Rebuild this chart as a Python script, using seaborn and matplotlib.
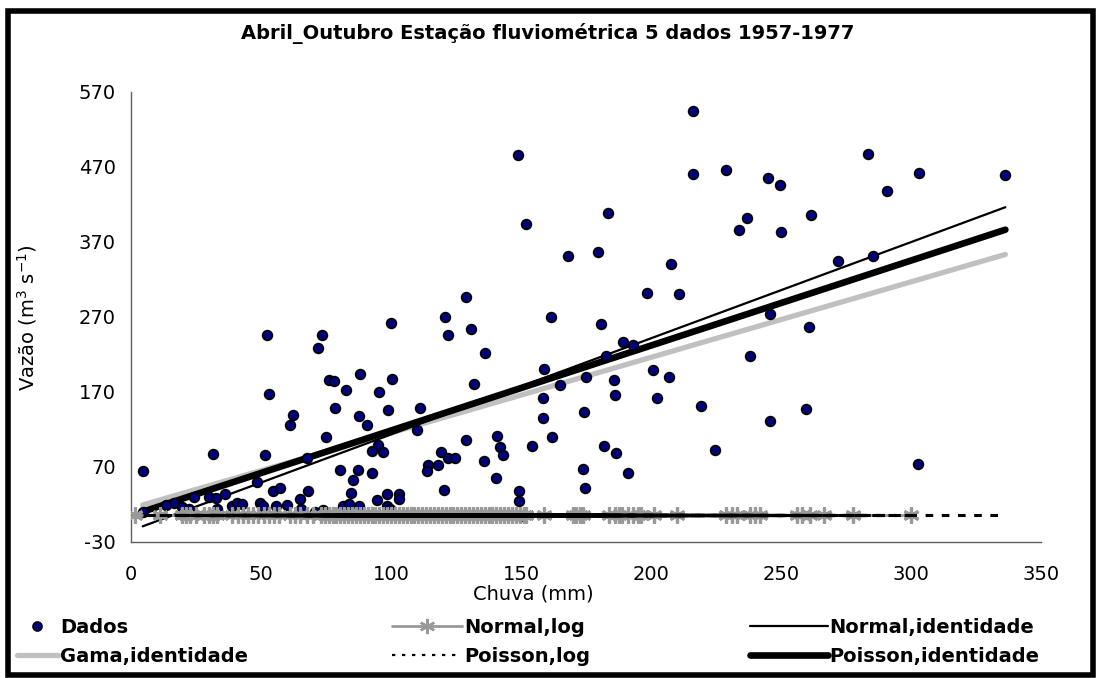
import numpy as np
import pandas as pd
import matplotlib
matplotlib.use("Agg")
import matplotlib.pyplot as plt
import seaborn as sns
from matplotlib.lines import Line2D
from matplotlib.patches import Rectangle

# ---------------- data ----------------
chuva = [148.8, 151.8, 168.0, 128.8, 120.6, 161.4, 121.8, 130.8, 136.3, 52.2,
         73.3, 72.0, 100.1, 76.2, 77.9, 88.1, 82.7, 95.4, 100.4, 53.1,
         132.0, 159.0, 164.9, 158.6, 216.3, 216.3, 229.0, 245.0, 249.7, 283.5,
         290.9, 183.3, 237.0, 233.7, 250.1, 261.7, 179.6, 207.8, 271.9, 285.3,
         198.3, 210.6, 180.8, 245.8, 260.6, 189.1, 193.2, 182.7, 238.0, 175.1,
         185.9, 200.8, 206.9, 186.3, 202.2, 174.2, 219.2, 245.9, 259.5, 181.8,
         186.7, 224.6, 173.7, 191.2, 174.6, 302.8, 158.5, 161.9, 154.3, 149.2,
         149.2, 78.3, 98.8, 111.3, 87.6, 90.6, 75.1, 109.9, 95.0, 92.6,
         97.0, 129.0, 140.7, 141.8, 143.2, 135.6, 119.3, 121.8, 124.6, 114.4,
         114.0, 118.0, 140.5, 120.5, 80.4, 87.3, 92.7, 85.4, 84.5, 98.3,
         103.1, 103.1, 94.7, 81.7, 84.0, 87.7, 98.3, 99.8, 73.7, 62.3,
         61.2, 31.5, 51.5, 4.5, 67.7, 48.3, 54.7, 57.3, 68.0, 65.0,
         36.2, 30.1, 32.7, 24.3, 16.7, 13.5, 19.7, 22.4, 33.2, 38.8,
         40.9, 42.8, 49.6, 50.9, 55.8, 60.1, 65.5, 4.5, 70.8, 150.0,
         303.0, 336.3]
vazao = [485, 394, 351, 296, 269, 269, 245, 253, 221, 246,
         246, 228, 261, 185, 184, 194, 172, 169, 187, 167,
         180, 200, 179, 162, 544, 460, 465, 455, 445, 487,
         438, 408, 401, 386, 383, 405, 356, 340, 344, 351,
         301, 300, 260, 274, 256, 236, 232, 218, 218, 190,
         186, 199, 189, 165, 162, 143, 151, 131, 147, 97,
         88, 92, 67, 61, 41, 73, 135, 110, 97, 37,
         24, 148, 146, 148, 138, 126, 109, 119, 99, 91,
         90, 105, 111, 96, 85, 78, 89, 81, 82, 72,
         64, 72, 55, 39, 65, 66, 61, 52, 35, 34,
         34, 27, 25, 17, 20, 18, 18, 13, 12, 139,
         126, 87, 85, 64, 81, 49, 38, 42, 38, 27,
         33, 30, 28, 29, 22, 19, 16, 14, 13, 18,
         22, 20, 22, 17, 18, 19, 14, 10, 9, 4,
         461, 459]

# x positions of the "Normal,log" fitted points (asterisks)
normal_log_x = [1.5, 11, 19.6, 21, 22.5, 25, 28, 30, 31.5, 33, 39, 41, 43, 45, 47,
                49, 51, 53, 55, 57, 61, 63, 65, 67.5, 70,
                73, 74.5, 76, 77.5, 79, 80.5, 82, 83.5, 85, 86.5, 88, 89.5, 91,
                92.5, 94, 95.5, 97, 98.5, 100, 101.5, 103, 104.5, 106, 107.5,
                109, 110.5, 112, 113.5, 115, 116.5, 118, 119.5, 121, 122.5, 124,
                125.5, 127, 128.5, 130, 131.5, 133, 134.5, 136, 137.5, 139,
                140.5, 142, 143.5, 145, 146.5, 148, 149.5, 151,
                152, 159, 170, 171, 172.5, 174, 184, 186, 187.5, 189, 191, 193,
                195, 196, 201, 210, 229, 231, 233, 238, 240, 242, 256, 258, 261,
                266.5, 277.7, 300]
NORMAL_LOG_LEVEL = 6.0
POISSON_LOG_LEVEL = 5.0

# fitted identity-link lines (end points)
fit_x = [4.5, 336.3]
normal_identidade = [-9.5, 416.0]
poisson_identidade = [10.0, 386.0]
gama_identidade = [19.0, 353.0]

x_ticks = [0, 50, 100, 150, 200, 250, 300, 350]
y_ticks = [-30, 70, 170, 270, 370, 470, 570]

title = "Abril_Outubro Estação fluviométrica 5 dados 1957-1977"
xlabel = "Chuva (mm)"
ylabel = "Vazão (m$^3$ s$^{-1}$)"

# ---------------- figure ----------------
sns.set_theme(style="white")
plt.rcParams['font.family'] = ['DejaVu Sans']
plt.rcParams['axes.unicode_minus'] = False
plt.rcParams['text.color'] = 'black'
plt.rcParams['axes.labelcolor'] = 'black'
plt.rcParams['xtick.color'] = 'black'
plt.rcParams['ytick.color'] = 'black'
plt.rcParams['path.simplify'] = False

W, H = 1096, 678
fig = plt.figure(figsize=(W / 100, H / 100), dpi=100)
ax = fig.add_axes([131 / W, 1 - 541.7 / H, 910 / W, 450 / H])

df = pd.DataFrame({"chuva": chuva, "vazao": vazao})
fit_df = pd.DataFrame({"x": fit_x, "normal": normal_identidade,
                       "poisson": poisson_identidade, "gama": gama_identidade})

# identity-link fits
sns.lineplot(data=fit_df, x="x", y="gama", ax=ax, color="#c0c0c0", lw=3.8,
             solid_capstyle="round", zorder=2, legend=False)
sns.lineplot(data=fit_df, x="x", y="normal", ax=ax, color="black", lw=1.6,
             zorder=2.2, legend=False)
sns.lineplot(data=fit_df, x="x", y="poisson", ax=ax, color="black", lw=4.8,
             solid_capstyle="round", zorder=2.1, legend=False)

# observations
sns.scatterplot(data=df, x="chuva", y="vazao", ax=ax, color="#000080",
                edgecolor="black", linewidth=1.3, s=48, zorder=3, legend=False)

# Normal,log fitted values
nl_df = pd.DataFrame({"x": normal_log_x,
                      "y": np.full(len(normal_log_x), NORMAL_LOG_LEVEL)})
sns.lineplot(data=nl_df, x="x", y="y", ax=ax, color="#999999", lw=2,
             marker=(6, 2, 0), markersize=11.5, markeredgewidth=2.3,
             markeredgecolor="#999999", estimator=None, zorder=4, legend=False)

# Poisson,log fitted values, path visiting the observations back and forth
# (the two last observations close the path, as in the reference)
order = np.argsort(chuva[:-2])
half = len(order) // 2
zig = np.ravel(np.column_stack([order[:half], order[half:2 * half][::-1]]))
path_idx = list(zig) + [len(chuva) - 2, len(chuva) - 1]
pl_df = pd.DataFrame({"x": [chuva[i] for i in path_idx],
                      "y": np.full(len(path_idx), POISSON_LOG_LEVEL)})
sns.lineplot(data=pl_df, x="x", y="y", ax=ax, color="black", lw=2.2,
             linestyle=(0, (2.5, 2.8)), sort=False, estimator=None, zorder=5,
             legend=False)

# axes styling
ax.set_xlim(0, 350)
ax.set_ylim(-30, 570)
ax.set_xticks(x_ticks)
ax.set_yticks(y_ticks)
ax.set_xlabel("")
ax.set_ylabel("")
for s in ["top", "right"]:
    ax.spines[s].set_visible(False)
for s in ["left", "bottom"]:
    ax.spines[s].set_color("#606060")
    ax.spines[s].set_linewidth(1.0)
ax.tick_params(axis="both", which="major", direction="out", color="#606060",
               labelsize=14, labelcolor="black", width=1.0)
ax.tick_params(axis="y", length=5, pad=6)
ax.tick_params(axis="x", length=5, pad=12)
ax.grid(False)

# texts
fig.text(548 / W, 1 - 33 / H, title, ha="center", va="center",
         fontsize=14, fontweight="bold", color="black")
fig.text(533 / W, 1 - 594 / H, xlabel, ha="center", va="center", fontsize=14,
         color="black")
fig.text(27 / W, 1 - 318 / H, ylabel, ha="center", va="center",
         rotation=90, fontsize=14, color="black")

# legends (three columns, two rows)
prop = {"weight": "bold", "size": 14}
h_dados = Line2D([], [], ls="none", marker="o", markersize=6.5,
                 markerfacecolor="#000080", markeredgecolor="black",
                 markeredgewidth=1.2)
h_gama = Line2D([], [], color="#c0c0c0", lw=3.8, solid_capstyle="round")
h_nlog = Line2D([], [], color="#999999", lw=2, marker=(6, 2, 0),
                markersize=11, markeredgewidth=1.7, markeredgecolor="#999999")
h_plog = Line2D([], [], color="black", lw=1.6, linestyle=(0, (1.5, 3)))
h_nid = Line2D([], [], color="black", lw=1.6)
h_pid = Line2D([], [], color="black", lw=4.8, solid_capstyle="round")

top = 1 - 618 / H
common = dict(loc="upper left", bbox_transform=fig.transFigure, frameon=False,
              borderpad=0, borderaxespad=0, handletextpad=0.1,
              labelspacing=0.52, prop=prop, numpoints=1, labelcolor="black")
fig.legend(handles=[h_dados, h_gama], labels=["Dados", "Gama,identidade"],
           bbox_to_anchor=(17 / W, top), handlelength=2.1, **common)
fig.legend(handles=[h_nlog, h_plog], labels=["Normal,log", "Poisson,log"],
           bbox_to_anchor=(392 / W, top), handlelength=3.6, **common)
fig.legend(handles=[h_nid, h_pid],
           labels=["Normal,identidade", "Poisson,identidade"],
           bbox_to_anchor=(750 / W, top), handlelength=4.0, **common)

# outer frame
fig.add_artist(Rectangle((8 / W, 1 - 675 / H), (1093 - 8) / W, (675 - 11) / H,
                         transform=fig.transFigure, fill=False,
                         edgecolor="black", linewidth=4))

fig.savefig("out.png", dpi=100)
